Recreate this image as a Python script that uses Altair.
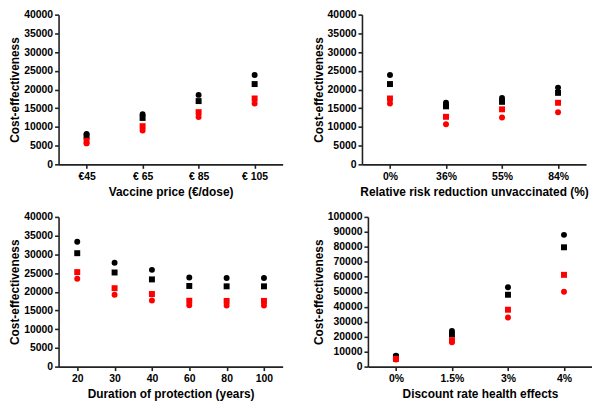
import altair as alt
import pandas as pd

SERIES = ["A", "B", "C", "D"]
SHAPES = ["circle", "square", "square", "circle"]
COLORS = ["#000000", "#000000", "#ff0000", "#ff0000"]

# Panel 1: vaccine price
price_cats = ["€45", "€ 65", "€ 85", "€ 105"]
price_a = [8100, 13400, 18560, 23850]
price_b = [7500, 12400, 16900, 21450]
price_c = [6300, 10200, 13950, 17600]
price_d = [5600, 9050, 12650, 16250]

# Panel 2: relative risk reduction unvaccinated
rrr_cats = ["0%", "36%", "55%", "84%"]
rrr_a = [23850, 16450, 17750, 20500]
rrr_b = [21450, 15500, 16700, 19100]
rrr_c = [17600, 12700, 14700, 16450]
rrr_d = [16250, 10700, 12500, 13900]

# Panel 3: duration of protection
dur_cats = ["20", "30", "40", "60", "80", "100"]
dur_a = [33350, 27750, 25850, 23800, 23700, 23700]
dur_b = [30300, 25150, 23300, 21550, 21450, 21450]
dur_c = [25250, 20950, 19400, 17600, 17550, 17550]
dur_d = [23500, 19200, 17650, 16400, 16350, 16350]

# Panel 4: discount rate health effects
disc_cats = ["0%", "1.5%", "3%", "4%"]
disc_a = [7300, 23850, 53000, 88000]
disc_b = [6500, 21450, 48000, 79700]
disc_c = [5100, 17600, 38000, 61300]
disc_d = [4700, 16250, 32750, 50000]

FONT = "Liberation Sans"


def panel(cats, series_vals, xtitle, ymax, ystep, width, height):
    rows = []
    for s, vals in zip(SERIES, series_vals):
        for c, v in zip(cats, vals):
            rows.append({"cat": c, "series": s, "value": v})
    df = pd.DataFrame(rows)
    return alt.Chart(df).mark_point(filled=True, opacity=1, size=36).encode(
        x=alt.X("cat:N", sort=cats,
                scale=alt.Scale(type="point", padding=0.5),
                axis=alt.Axis(title=xtitle, labelAngle=0, labelPadding=3,
                              titlePadding=5)),
        y=alt.Y("value:Q", scale=alt.Scale(domain=[0, ymax], nice=False),
                axis=alt.Axis(values=list(range(0, ymax + 1, ystep)), format="d",
                              title="Cost-effectiveness", labelPadding=2,
                              titlePadding=2)),
        shape=alt.Shape("series:N", scale=alt.Scale(domain=SERIES, range=SHAPES), legend=None),
        color=alt.Color("series:N", scale=alt.Scale(domain=SERIES, range=COLORS), legend=None),
    ).properties(width=width, height=height)


W = 226
H = 151
p1 = panel(price_cats, [price_a, price_b, price_c, price_d], "Vaccine price (€/dose)", 40000, 5000, W, H)
p2 = panel(rrr_cats, [rrr_a, rrr_b, rrr_c, rrr_d], "Relative risk reduction unvaccinated (%)", 40000, 5000, W, H)
p3 = panel(dur_cats, [dur_a, dur_b, dur_c, dur_d], "Duration of protection (years)", 40000, 5000, W, H)
p4 = panel(disc_cats, [disc_a, disc_b, disc_c, disc_d], "Discount rate health effects", 100000, 10000, W, H)

chart = alt.vconcat(
    alt.hconcat(p1, p2, spacing=29),
    alt.hconcat(p3, p4, spacing=29),
    spacing=14,
).properties(padding=0).configure_view(stroke=None).configure_axis(
    grid=False,
    domainColor="#222222",
    domainWidth=1.6,
    tickColor="#222222",
    tickWidth=1.6,
    tickSize=4,
    labelFont=FONT,
    labelFontSize=10.5,
    labelFontWeight="bold",
    labelColor="#000000",
    titleFont=FONT,
    titleFontSize=12,
    titleFontWeight="bold",
    titleColor="#000000",
)

chart.save("out.html", embed_options={"renderer": "svg", "actions": False})
